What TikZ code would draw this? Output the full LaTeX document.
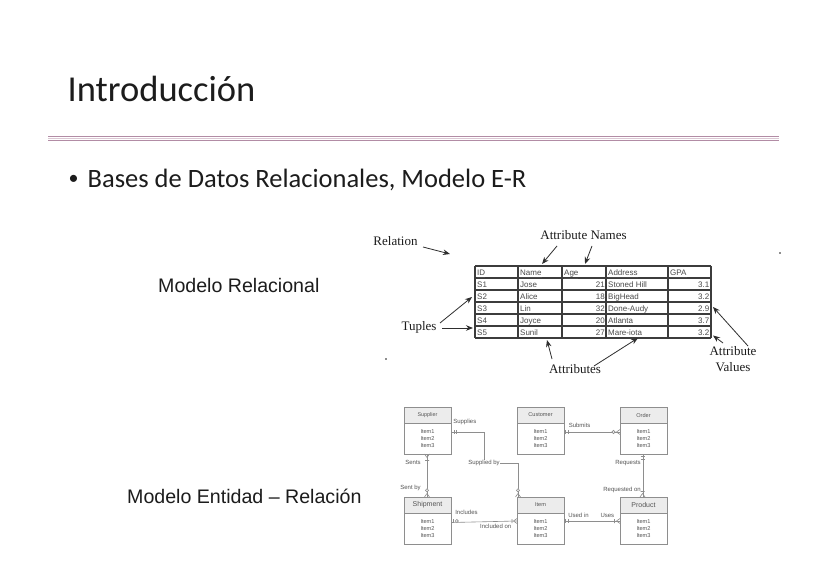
\documentclass[tikz,border=0pt]{standalone}
\usepackage{fontspec}
\usetikzlibrary{arrows.meta}
\newfontfamily\calibri{Carlito}
\newfontfamily\arialf{Liberation Sans}
\newfontfamily\romanf{Liberation Serif}
\definecolor{ink}{HTML}{1C1C1C}
\definecolor{ruleA}{HTML}{B28CA5}
\definecolor{ruleB}{HTML}{DCC8D4}
\definecolor{ergray}{HTML}{8E8E8E}
\definecolor{erhead}{HTML}{ECECEC}
\definecolor{ertext}{HTML}{555555}
\definecolor{tline}{HTML}{3C3C3C}
\definecolor{ttext}{HTML}{4A4A4A}
\definecolor{arrowc}{HTML}{2E2E2E}

\tikzset{
  ent/.style={draw=ergray, line width=0.6pt, minimum width=47pt, minimum height=47pt, inner sep=0},
  erlink/.style={draw=ergray, line width=0.6pt},
  erlab/.style={font=\arialf\fontsize{6}{7}\selectfont, text=ertext, inner sep=0.6pt},
  cell/.style={font=\arialf\fontsize{8}{9}\selectfont, text=ttext, inner sep=0},
  tlabel/.style={font=\romanf\fontsize{13}{16}\selectfont, text=ink, inner sep=0},
  tarrow/.style={draw=arrowc, line width=0.8pt, -{Stealth[length=7pt,width=5.5pt]}},
}

% entity box: name, left x, top y, title, title size
\newcommand\erent[5]{%
  \fill[erhead] (#2,#3) rectangle ({#2+47},{#3+16});
  \node[ent, anchor=north west] (#1) at (#2,#3) {};
  \draw[ergray, line width=0.5pt] (#2,{#3+16}) -- ({#2+47},{#3+16});
  \node[font=\arialf\fontsize{#5}{#5}\selectfont, text=ertext, inner sep=0] (#1-t) at ({#2+23.5},{#3+8}) {#4};
  \node[font=\arialf\fontsize{5.6}{7}\selectfont, text=ertext, align=center, inner sep=0] (#1-i) at ({#2+23.5},{#3+32}) {Item1\\Item2\\Item3};
}

\begin{document}
\begin{tikzpicture}[x=1pt,y=-1pt]
\useasboundingbox (0,0) rectangle (827,561);
\fill[white] (0,0) rectangle (827,561);

% slide heading and rule
\node[anchor=base west, inner sep=0, font=\calibri\fontsize{36.5}{40}\selectfont, text=ink] (title) at (67.5,102) {Introducción};
\draw[ruleA, line width=1.3pt] (48,136.3) -- (779,136.3);
\draw[ruleB, line width=1.2pt] (48,138.4) -- (779,138.4);
\draw[ruleA, line width=1.1pt] (48,140.3) -- (779,140.3);

\node[inner sep=0, font=\calibri\fontsize{20}{24}\selectfont, text=ink] (bul) at (73.5,180) {•};
\node[anchor=base west, inner sep=0, font=\calibri\fontsize{26.5}{30}\selectfont, text=ink] (sub) at (87.5,188) {Bases de Datos Relacionales, Modelo E-R};

\node[anchor=base west, inner sep=0, font=\arialf\fontsize{19.6}{22}\selectfont, text=ink] (mrel) at (158,293) {Modelo Relacional};
\node[anchor=base west, inner sep=0, font=\arialf\fontsize{19.6}{22}\selectfont, text=ink] (mer) at (127,503) {Modelo Entidad – Relación};

% ---------- relation table ----------
\foreach \yy in {266,278,290,302,314,326,338}
  \draw[tline, line width=1.1pt] (475,\yy) -- (711,\yy);
\foreach \xx in {475,518,562,606,668,711}
  \draw[tline, line width=1.1pt] (\xx,266) -- (\xx,338);

\node[cell, anchor=base west] (hID) at (477,275.5) {\underline{ID}};
\node[cell, anchor=base west] (hName) at (520,275.5) {\underline{Name}};
\node[cell, anchor=base west] (hAge) at (564,275.5) {\underline{Age}};
\node[cell, anchor=base west] (hAddr) at (608,275.5) {\underline{Address}};
\node[cell, anchor=base west] (hGPA) at (670,275.5) {\underline{GPA}};

\foreach \r/\id/\nm/\ag/\ad/\gp in {1/S1/Jose/21/Stoned Hill/3.1, 2/S2/Alice/18/BigHead/3.2,
    3/S3/Lin/32/Done-Audy/2.9, 4/S4/Joyce/20/Atlanta/3.7, 5/S5/Sunil/27/Mare-iota/3.2} {
  \node[cell, anchor=base west] (id\r) at (477,{275.5+12*\r}) {\id};
  \node[cell, anchor=base west] (nm\r) at (520,{275.5+12*\r}) {\nm};
  \node[cell, anchor=base east] (ag\r) at (605,{275.5+12*\r}) {\ag};
  \node[cell, anchor=base west] (ad\r) at (608,{275.5+12*\r}) {\ad};
  \node[cell, anchor=base east] (gp\r) at (709.5,{275.5+12*\r}) {\gp};
}

% labels around the table
\node[tlabel] (lrel) at (395.5,241) {Relation};
\node[tlabel] (lnames) at (583.5,235) {Attribute Names};
\node[tlabel] (ltup) at (419,327) {Tuples};
\node[tlabel] (latt) at (575,369) {Attributes};
\node[tlabel, align=center] (lval) at (733,359) {Attribute\\Values};

\coordinate (relA) at (423,247);   \coordinate (relB) at (450,254);
\coordinate (nmA) at (557,246);    \coordinate (nmB) at (542,264);
\coordinate (agA) at (592,246);    \coordinate (agB) at (585,264);
\coordinate (tuA) at (440,323);    \coordinate (tuB) at (472,297);
\coordinate (tuC) at (442,328);    \coordinate (tuD) at (473,328);
\coordinate (atA) at (552,359);    \coordinate (atB) at (547,340);
\coordinate (atC) at (594,366);    \coordinate (atD) at (638,338);
\coordinate (vaA) at (748,346);    \coordinate (vaB) at (713,307);
\coordinate (vaC) at (723,343);    \coordinate (vaD) at (713,335.5);

\draw[tarrow] (relA) -- (relB);
\draw[tarrow] (nmA) -- (nmB);
\draw[tarrow] (agA) -- (agB);
\draw[tarrow] (tuA) -- (tuB);
\draw[tarrow] (tuC) -- (tuD);
\draw[tarrow] (atA) -- (atB);
\draw[tarrow] (atC) -- (atD);
\draw[tarrow] (vaA) -- (vaB);
\draw[tarrow] (vaC) -- (vaD);

\fill[ink] (780,253) circle (0.8);
\fill[ink] (386,359) circle (0.8);

% ---------- entity-relationship diagram ----------
\erent{sup}{404}{407}{Supplier}{5.4}
\erent{cus}{517}{407}{Customer}{5.6}
\erent{ord}{620}{407}{Order}{5.6}
\erent{shp}{404}{497}{Shipment}{7}
\erent{itm}{517}{497}{Item}{5.6}
\erent{prd}{620}{497}{Product}{7}

\coordinate (sb) at (484,463);
\draw[erlink] ([yshift=-1.5pt]sup.east) -| (sb) -| ([xshift=1pt]itm.north west);
\draw[erlink] ([xshift=-0.5pt]sup.south) -- ([xshift=-0.5pt]shp.north);
\draw[erlink] ([yshift=-1.5pt]shp.east |- 0,521) -- (itm.west |- 0,521);
\draw[erlink] (cus.east |- 0,432) -- (ord.west |- 0,432);
\draw[erlink] ([xshift=-0.5pt]ord.south) -- ([xshift=-0.5pt]prd.north);
\draw[erlink] (itm.east |- 0,521) -- (prd.west |- 0,521);

% line end markers
\begin{scope}[erlink]
  \draw (454,430) -- (454,434) (456.5,430) -- (456.5,434);
  \draw (515.5,497) -- (518,493.5) -- (520.5,497);
  \draw[fill=white] (518,490.3) circle (1.6);
  \draw (424.5,454) -- (427,457.5) -- (429.5,454) (425,460.5) -- (429,460.5);
  \draw (424.5,497) -- (427,493.5) -- (429.5,497);
  \draw[fill=white] (427,490.3) circle (1.6);
  \draw (453.5,519) -- (453.5,523);
  \draw[fill=white] (456.8,521) circle (1.6);
  \draw (517,518.5) -- (513.5,521) -- (517,523.5) (512,519) -- (512,523);
  \draw (565.5,430) -- (565.5,434) (568,430) -- (568,434);
  \draw (620,429.5) -- (616.5,432) -- (620,434.5);
  \draw[fill=white] (613.5,432) circle (1.6);
  \draw (640.5,456.5) -- (644.5,456.5) (640.5,459) -- (644.5,459);
  \draw (640,497) -- (642.5,493.5) -- (645,497) (640.5,491.5) -- (644.5,491.5);
  \draw (565.5,519) -- (565.5,523) (568,519) -- (568,523);
  \draw (620,518.5) -- (616.5,521) -- (620,523.5) (614.5,519) -- (614.5,523);
\end{scope}

% relationship labels
\node[erlab, anchor=west] (lsupplies) at (452.5,421.5) {Supplies};
\node[erlab, fill=white] (lsuppliedby) at (sb) {Supplied by};
\node[erlab, anchor=east] (lsents) at (421.5,462) {Sents};
\node[erlab, anchor=east] (lsentby) at (421.5,488) {Sent by};
\node[erlab, anchor=west] (lincludes) at (454.5,512) {Includes};
\node[erlab, anchor=east] (lincludedon) at (512,526) {Included on};
\node[erlab, anchor=west] (lsubmits) at (568,425) {Submits};
\node[erlab, anchor=east] (lrequests) at (641.5,463) {Requests};
\node[erlab, anchor=east] (lrequestedon) at (641.5,490) {Requested on};
\node[erlab, anchor=west] (lusedin) at (567.5,515) {Used in};
\node[erlab, anchor=east] (luses) at (615,515) {Uses};
\end{tikzpicture}
\end{document}
